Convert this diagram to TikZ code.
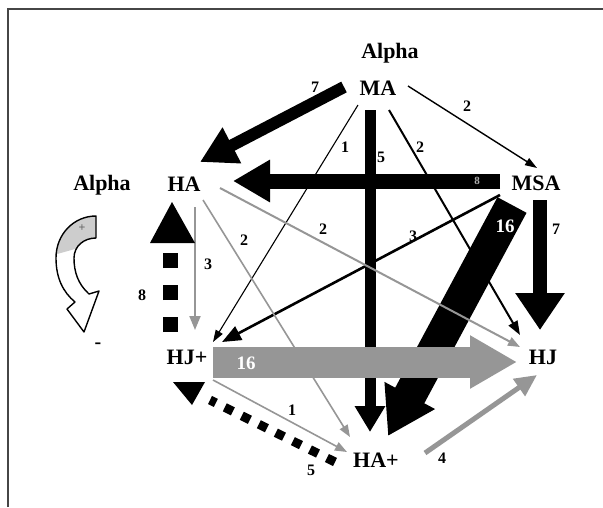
\documentclass[tikz,border=0pt]{standalone}
\usepackage{fontspec}
\setmainfont{Liberation Serif}
\usetikzlibrary{arrows.meta,calc}
\definecolor{arrgray}{RGB}{150,150,150}
\definecolor{lightgr}{RGB}{205,205,205}
\definecolor{framegray}{RGB}{70,70,70}
\begin{document}
\begin{tikzpicture}[x=1pt,y=-1pt,
  nd/.style={font=\bfseries\fontsize{22}{22}\selectfont, inner sep=0pt},
  lbl/.style={font=\bfseries\fontsize{16}{16}\selectfont, inner sep=0pt},
  wlbl/.style={font=\bfseries\fontsize{19}{19}\selectfont, inner sep=0pt, text=white},
  thinblk/.style={draw=black, line width=1.1pt, -{Triangle[length=12pt,width=8pt]}},
  medblk/.style={draw=black, line width=2pt, -{Triangle[length=14pt,width=10pt]}},
  thingr/.style={draw=arrgray, line width=1.6pt, -{Triangle[length=12pt,width=9pt]}},
  squares/.style={draw=black, dash pattern=on 9pt off 10pt},
]
\path[use as bounding box] (0,0) rectangle (603,507);
\draw[framegray, line width=1.3pt] (8,507) -- (8,9) -- (603,9);

% nodes
\node[nd] (alphaT) at (390,53) {Alpha};
\node[nd] (MA) at (378,88) {MA};
\node[nd] (HA) at (184,184) {HA};
\node[nd] (alphaL) at (102,185) {Alpha};
\node[nd] (MSA) at (536,183) {MSA};
\node[nd] (HJp) at (187,357) {HJ+};
\node[nd] (HJ) at (543,357) {HJ};
\node[nd] (HAp) at (376,460) {HA+};

% thick black arrows
\draw[line width=12pt, -{Triangle[length=36pt,width=38pt]}] ($(MA)+(-34,-1)$) -- ($(HA)+(16,-22)$);
\draw[line width=11pt, -{Triangle[length=26pt,width=29pt]}] ($(MA)+(-8,22)$) -- ($(HAp)+(-6,-28)$);
\draw[line width=15pt, -{Triangle[length=37pt,width=40pt]}] ($(MSA)+(-36,-2)$) -- ($(HA)+(49,-3)$);
\draw[line width=33pt, -{Triangle[length=46pt,width=54pt]}] ($(MSA)+(-24,22)$) -- ($(HAp)+(12,-24)$);
\draw[line width=14pt, -{Triangle[length=37pt,width=47pt]}] ($(MSA)+(4,17)$) -- ($(HJ)+(-3,-27)$);

% thinner black arrows
\draw[thinblk, line width=1.4pt] ($(MA)+(30,-2)$) -- ($(MSA)+(1,-15)$);
\draw[thinblk] ($(MA)+(-20,17)$) -- ($(HJp)+(26,-15)$);
\draw[medblk] ($(MA)+(11,22)$) -- ($(HJ)+(-23,-22)$);
\draw[draw=black, line width=2.6pt, -{Triangle[length=19pt,width=15pt]}] ($(MSA)+(-36,12)$) -- ($(HJp)+(35,-15)$);

% grey arrows
\draw[thingr, line width=2pt, -{Triangle[length=14pt,width=11pt]}] ($(HA)+(11,23)$) -- ($(HJp)+(8,-27)$);
\draw[thingr] ($(HA)+(19,16)$) -- ($(HAp)+(-26,-23)$);
\draw[thingr, line width=2pt] ($(HA)+(36,4)$) -- ($(HJ)+(-23,-10)$);
\draw[thingr] ($(HJp)+(26,23)$) -- ($(HAp)+(-29,-8)$);
\draw[draw=arrgray, line width=5pt, -{Triangle[length=22pt,width=20pt]}] ($(HAp)+(49,-7)$) -- ($(HJ)+(-6,18)$);
\draw[draw=arrgray, line width=31pt, -{Triangle[length=47pt,width=50pt]}] ($(HJp)+(26,5)$) -- ($(HJ)+(-26,5)$);

% dotted (square) connectors
\draw[squares, line width=9pt] ($(HAp)+(-41,2)$) -- ($(HJp)+(23,43)$);
\fill ($(HJp)+(-14,25)$) -- ($(HJp)+(18,25)$) -- ($(HJp)+(5,48)$) -- cycle;
\draw[draw=black, line width=15pt, dash pattern=on 15pt off 17pt] ($(HJp)+(-16.5,-25)$) -- ($(HJp)+(-16.5,-105)$);
\fill ($(HA)+(-34,59)$) -- ($(HA)+(11,59)$) -- ($(HA)+(-12,18)$) -- cycle;

% curved arrow at the left
\def\curvedpath{(96,216) .. controls (74,216) and (56,234) .. (56,258)
 .. controls (56,278) and (63,292) .. (75,302)
 -- (67,309) -- (84,332) -- (99,291) -- (89,294)
 .. controls (78,284) and (74,272) .. (74,258)
 .. controls (74,246) and (84,238) .. (96,238) -- cycle}
\fill[white] \curvedpath;
\begin{scope}
\clip \curvedpath;
\fill[lightgr] (50,205) -- (100,205) -- (100,242) -- (50,256) -- cycle;
\end{scope}
\draw[line width=1.4pt, line join=round] \curvedpath;
\node[font=\bfseries\fontsize{12}{12}\selectfont, inner sep=0pt, text=black!60] (plus) at (82,228) {+};
\node[font=\bfseries\fontsize{20}{20}\selectfont, inner sep=0pt] (minus) at (98,346) {-};

% labels
\node[lbl] (l7a) at (315,87) {7};
\node[lbl] (l2a) at (467,106) {2};
\node[lbl] (l1a) at (345,147) {1};
\node[lbl] (l5a) at (381,157) {5};
\node[lbl] (l2b) at (420,147) {2};
\node[font=\bfseries\fontsize{11}{11}\selectfont, inner sep=0pt, text=black!30] (l8a) at (477,181) {8};
\node[wlbl] (l16a) at (505,226) {16};
\node[lbl] (l7b) at (556,229) {7};
\node[lbl] (l3a) at (413,236) {3};
\node[lbl] (l2c) at (323,229) {2};
\node[lbl] (l2d) at (244,240) {2};
\node[lbl] (l3b) at (208,264) {3};
\node[lbl] (l8b) at (142,295) {8};
\node[wlbl] (l16b) at (246,363) {16};
\node[lbl] (l1b) at (292,410) {1};
\node[lbl] (l5b) at (311,470) {5};
\node[lbl] (l4) at (442,458) {4};
\end{tikzpicture}
\end{document}
